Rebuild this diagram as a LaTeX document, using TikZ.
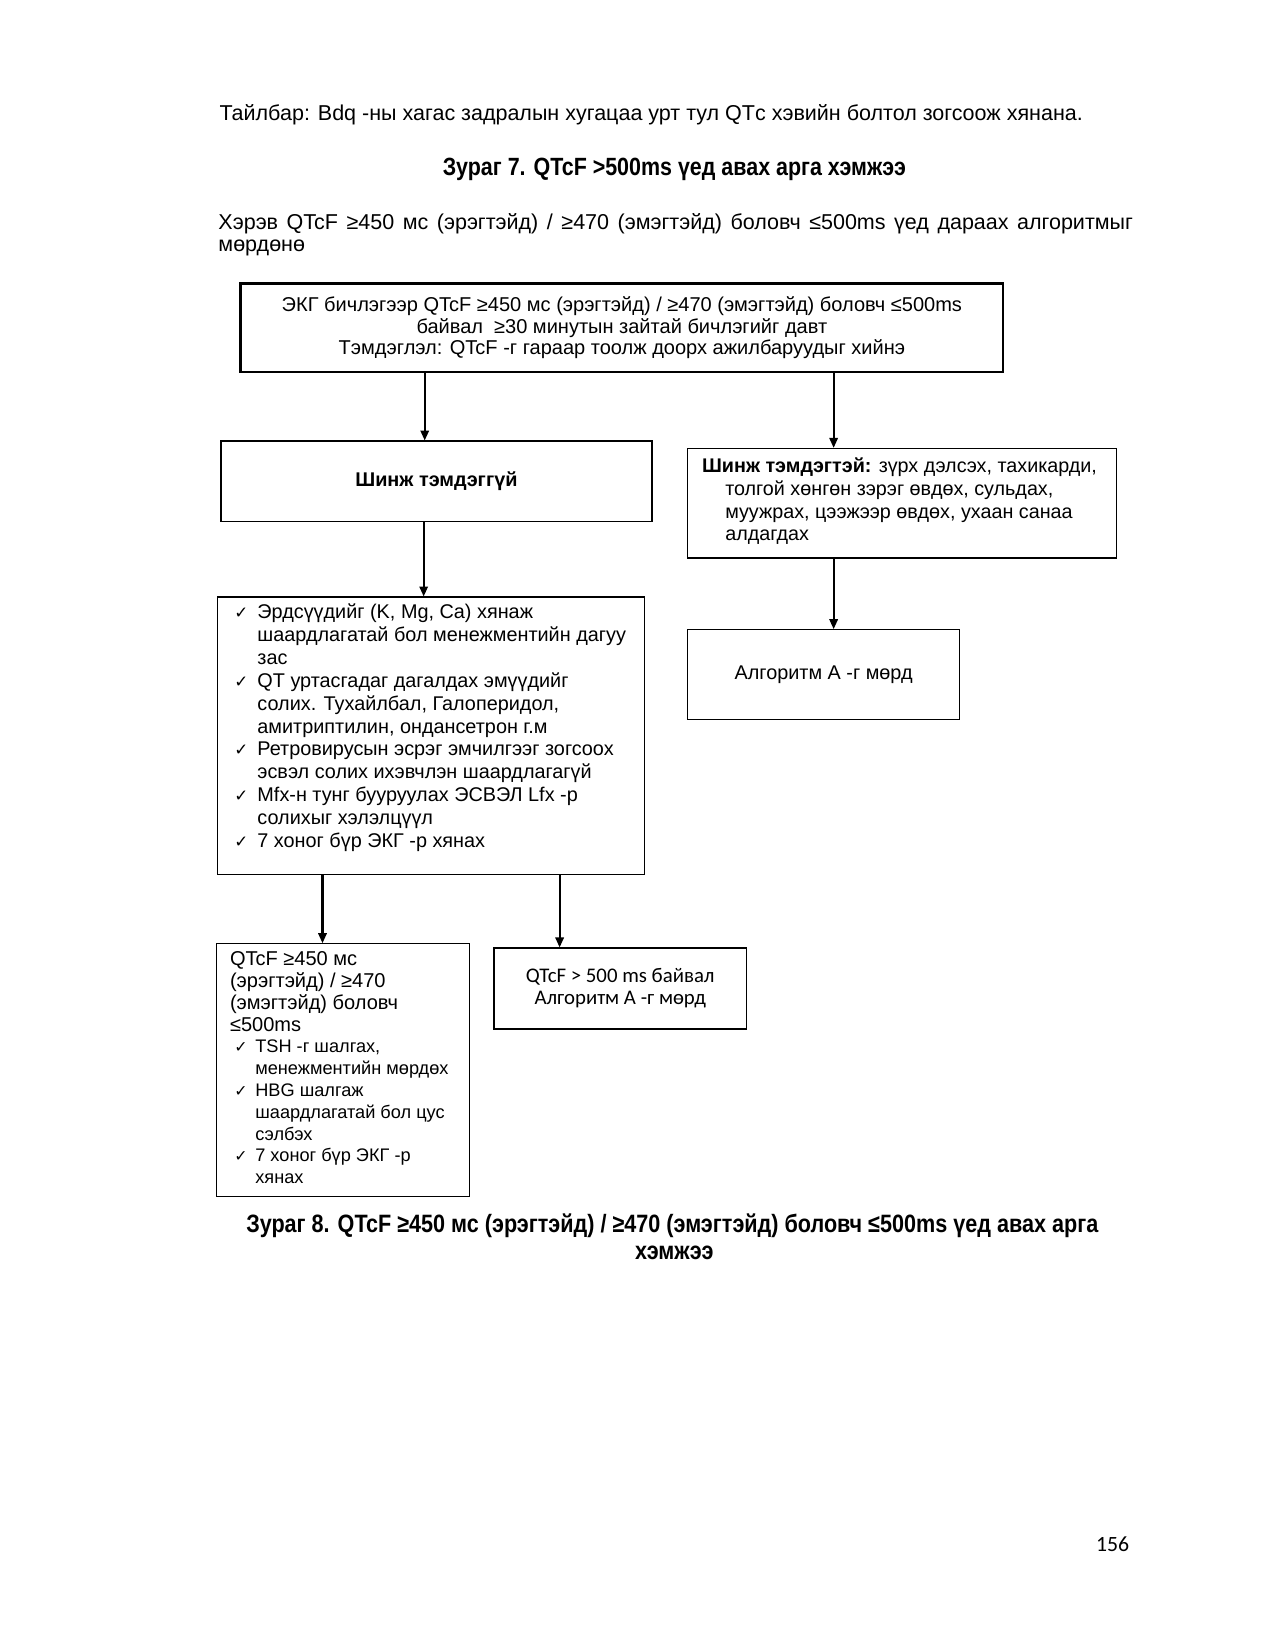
\documentclass[tikz,border=0pt]{standalone}
\usepackage{fontspec}
\setmainfont{Liberation Sans}
\newfontfamily\narrowbf[FakeStretch=0.86]{Liberation Sans Bold}
\newfontfamily\dejavu{DejaVu Sans}
\newfontfamily\carlito{Carlito}
\usetikzlibrary{arrows.meta}
\newcommand{\ck}{\makebox[13.2pt][l]{\dejavu\fontsize{9.5}{9.5}\selectfont ✓}}
\newcommand{\ind}{\hspace*{13.2pt}}
\newcommand{\ckb}{\makebox[12pt][l]{\dejavu\fontsize{9}{9}\selectfont ✓}}
\newcommand{\indb}{\hspace*{12pt}}
\begin{document}
\begin{tikzpicture}[x=0.6pt,y=-0.6pt,
  box/.style={draw, line width=0.8pt, inner sep=0pt, anchor=north west},
  arr/.style={line width=1.25pt, -{Triangle[length=6pt,width=5pt]}},
  txt/.style={inner sep=0pt, align=left}]
\useasboundingbox (0,0) rectangle (1275,1650);
\fill[white] (0,0) rectangle (1275,1650);
\begin{scope}[scale=1.0537, transform shape]

% header texts
\node[txt, anchor=base west, font=\fontsize{12.25}{14}\selectfont] (h1) at (208,114)
  {Тайлбар: Bdq -ны хагас задралын хугацаа урт тул QTс хэвийн болтол зогсоож хянана.};
\node[txt, anchor=base, font=\narrowbf\fontsize{14.2}{16}\selectfont] (h2) at (640,167)
  {Зураг 7. QTcF >500ms үед авах арга хэмжээ};
\node[txt, anchor=base west, font=\fontsize{12.25}{14}\selectfont] (h3) at (207,218)
  {\makebox[520.8pt][s]{Хэрэв QTcF ≥450 мс (эрэгтэйд) / ≥470 (эмэгтэйд) боловч ≤500ms үед дараах алгоритмыг}};
\node[txt, anchor=base west, font=\fontsize{12.25}{14}\selectfont] (h4) at (207,239)
  {мөрдөнө};

% boxes
\node[box, line width=1.4pt, minimum width=434.4pt, minimum height=50.4pt, align=center,
  font=\fontsize{11.4}{12.3}\selectfont] (top) at (227,268)
  {ЭКГ бичлэгээр QTcF ≥450 мс (эрэгтэйд) / ≥470 (эмэгтэйд) боловч ≤500ms\\
   байвал \ ≥30 минутын зайтай бичлэгийг давт\\
   Тэмдэглэл: QTcF -г гараар тоолж доорх ажилбаруудыг хийнэ};

\node[box, minimum width=245.4pt, minimum height=45.6pt,
  font=\bfseries\fontsize{11.3}{13}\selectfont] (b2) at (209,418) {Шинж тэмдэггүй};

\node[box, minimum width=244.2pt, minimum height=62.4pt] (b3) at (652,425) {};
\node[txt, anchor=north west, font=\fontsize{11.25}{13}\selectfont] (t3) at (666,434)
  {\textbf{Шинж тэмдэгтэй:} зүрх дэлсэх, тахикарди,\\
   \ind толгой хөнгөн зэрэг өвдөх, сульдах,\\
   \ind муужрах, цээжээр өвдөх, ухаан санаа\\
   \ind алдагдах};

\node[box, minimum width=243pt, minimum height=157.8pt] (b4) at (206,566) {};
\node[txt, anchor=north west, font=\fontsize{11.3}{13}\selectfont] (t4) at (222,573)
  {\ck Эрдсүүдийг (K, Mg, Ca) хянаж\\
   \ind шаардлагатай бол менежментийн дагуу\\
   \ind зас\\
   \ck QT уртасгадаг дагалдах эмүүдийг\\
   \ind солих. Тухайлбал, Галоперидол,\\
   \ind амитриптилин, ондансетрон г.м\\
   \ck Ретровирусын эсрэг эмчилгээг зогсоох\\
   \ind эсвэл солих ихэвчлэн шаардлагагүй\\
   \ck Mfx-н тунг бууруулах ЭСВЭЛ Lfx -р\\
   \ind солихыг хэлэлцүүл\\
   \ck 7 хоног бүр ЭКГ -р хянах};

\node[box, minimum width=154.8pt, minimum height=51pt,
  font=\fontsize{11.3}{13}\selectfont] (b5) at (652,597) {Алгоритм А -г мөрд};

\node[box, minimum width=144pt, minimum height=144pt] (b6) at (205,895) {};
\node[txt, anchor=north west, font=\fontsize{10.35}{12.4}\selectfont] (t6) at (218,903)
  {{\fontsize{11.4}{12.4}\selectfont QTcF ≥450 мс}\\
   {\fontsize{11.4}{12.4}\selectfont (эрэгтэйд) / ≥470}\\
   {\fontsize{11.4}{12.4}\selectfont (эмэгтэйд) боловч}\\
   {\fontsize{11.4}{12.4}\selectfont ≤500ms}\\
   \hspace*{2.4pt}\ckb TSH -г шалгах,\\
   \hspace*{2.4pt}\indb менежментийн мөрдөх\\
   \hspace*{2.4pt}\ckb HBG шалгаж\\
   \hspace*{2.4pt}\indb шаардлагатай бол цус\\
   \hspace*{2.4pt}\indb сэлбэх\\
   \hspace*{2.4pt}\ckb 7 хоног бүр ЭКГ -р\\
   \hspace*{2.4pt}\indb хянах};

\node[box, minimum width=144pt, minimum height=46.2pt, align=center,
  font=\carlito\fontsize{11.85}{12.6}\selectfont] (b7) at (468,899)
  {QTcF > 500 ms байвал\\ Алгоритм А -г мөрд};

% connectors
\coordinate (xa) at (403,0);
\coordinate (xb) at (791,0);
\coordinate (xc) at (402,0);
\coordinate (xe) at (306,0);
\coordinate (xf) at (531,0);
\draw[arr] (top.south -| xa) -- (b2.north -| xa);
\draw[arr] (top.south -| xb) -- (b3.north -| xb);
\draw[arr] (b2.south -| xc) -- (b4.north -| xc);
\draw[arr] (b3.south -| xb) -- (b5.north -| xb);
\draw[arr] (b4.south -| xe) -- (b6.north -| xe);
\draw[arr] (b4.south -| xf) -- (b7.north -| xf);

% caption
\node[txt, anchor=base, font=\narrowbf\fontsize{14.3}{16}\selectfont] (c1) at (638,1170)
  {Зураг 8. QTcF ≥450 мс (эрэгтэйд) / ≥470 (эмэгтэйд) боловч ≤500ms үед авах арга};
\node[txt, anchor=base, font=\narrowbf\fontsize{14.3}{16}\selectfont] (c2) at (640,1195)
  {хэмжээ};

\node[txt, anchor=base, font=\carlito\fontsize{12.4}{13}\selectfont] (pg) at (1056,1472) {156};
\end{scope}
\end{tikzpicture}
\end{document}
